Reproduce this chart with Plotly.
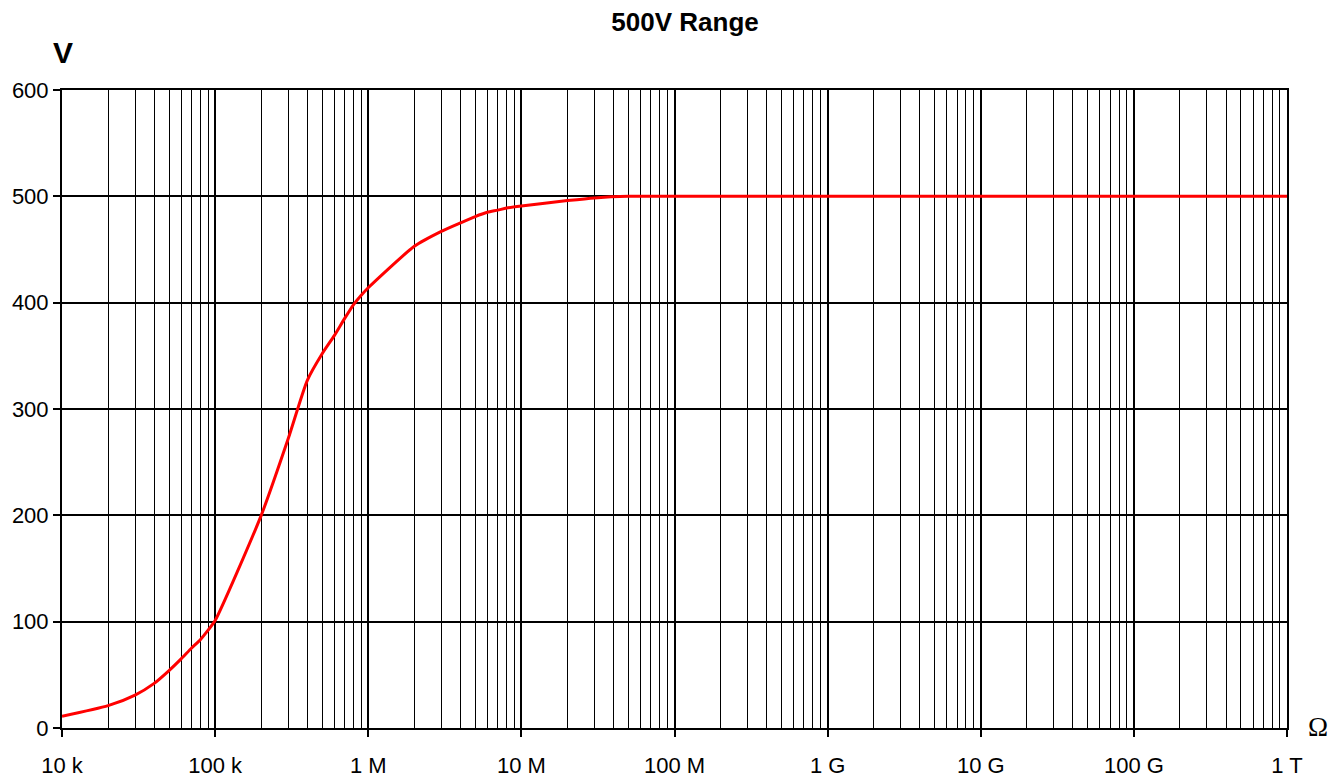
import plotly.graph_objects as go

# 电阻 (Ω) 与 输出电压 (V)
resistance = [1e4, 2e4, 3e4, 4e4, 5e4, 6e4, 7e4, 8e4, 9e4,
              1e5, 2e5, 3e5, 4e5, 5e5, 6e5, 7e5, 8e5, 9e5,
              1e6, 2e6, 3e6, 4e6, 5e6, 6e6, 7e6, 8e6, 1e7,
              2e7, 3e7, 5e7, 1e8, 1e9, 1e10, 1e11, 1e12]
voltage = [11, 21, 31, 42, 54, 65, 75, 83, 92,
           101, 200, 272, 327, 352, 369, 385, 398, 407,
           414, 453, 467, 475, 481, 485, 487, 489, 491,
           496, 498.5, 500, 500, 500, 500, 500, 500]

x_major = [1e4, 1e5, 1e6, 1e7, 1e8, 1e9, 1e10, 1e11, 1e12]
x_labels = ["10 k", "100 k", "1 M", "10 M", "100 M", "1 G", "10 G", "100 G", "1 T"]
x_minor = [m * d for d in x_major[:-1] for m in range(2, 10)]
y_ticks = [0, 100, 200, 300, 400, 500, 600]

FONT = "Liberation Sans, Arial, sans-serif"

fig = go.Figure()
fig.add_trace(go.Scatter(
    x=resistance, y=voltage, mode="lines",
    line=dict(color="#ff0000", width=3, shape="spline", smoothing=0.6),
    showlegend=False, hoverinfo="x+y",
))

fig.update_layout(
    width=1339, height=779,
    margin=dict(l=62, r=52, t=90, b=51),
    plot_bgcolor="white", paper_bgcolor="white",
    font=dict(family=FONT, size=22, color="black"),
    title=dict(text="<b>500V Range</b>", x=0.5116, xanchor="center",
               y=0.9718, yanchor="middle", font=dict(size=26, family=FONT)),
    xaxis=dict(
        type="log", range=[4, 12], automargin=False,
        tickvals=x_major, ticktext=x_labels, ticklabelstandoff=10,
        ticks="outside", ticklen=7, tickwidth=2, tickcolor="black",
        showgrid=True, gridcolor="black", gridwidth=2,
        showline=True, linecolor="black", linewidth=2, mirror=True,
        zeroline=False,
        minor=dict(tickvals=x_minor, showgrid=True, gridcolor="black",
                   gridwidth=1, ticks=""),
    ),
    yaxis=dict(
        range=[0, 600], tickvals=y_ticks, automargin=False,
        ticks="outside", ticklen=7, tickwidth=2, tickcolor="black",
        showgrid=True, gridcolor="black", gridwidth=2,
        showline=True, linecolor="black", linewidth=2, mirror=True,
        zeroline=False,
    ),
    annotations=[
        dict(text="<b>V</b>", xref="paper", yref="paper", x=0.0, y=1.0,
             xanchor="center", yanchor="middle", xshift=1, yshift=38,
             showarrow=False, font=dict(size=30, family=FONT)),
        dict(text="Ω", xref="paper", yref="paper", x=1.0, y=0.0,
             xanchor="center", yanchor="middle", xshift=31, yshift=1,
             showarrow=False,
             font=dict(size=27, family="Liberation Serif, Times New Roman, serif")),
    ],
)

# 去掉页面默认的 8px 边距，让图正好铺满窗口；不显示工具栏
fig.write_html("out.html", config={"displayModeBar": False},
               post_script="document.body.style.margin='0';")
